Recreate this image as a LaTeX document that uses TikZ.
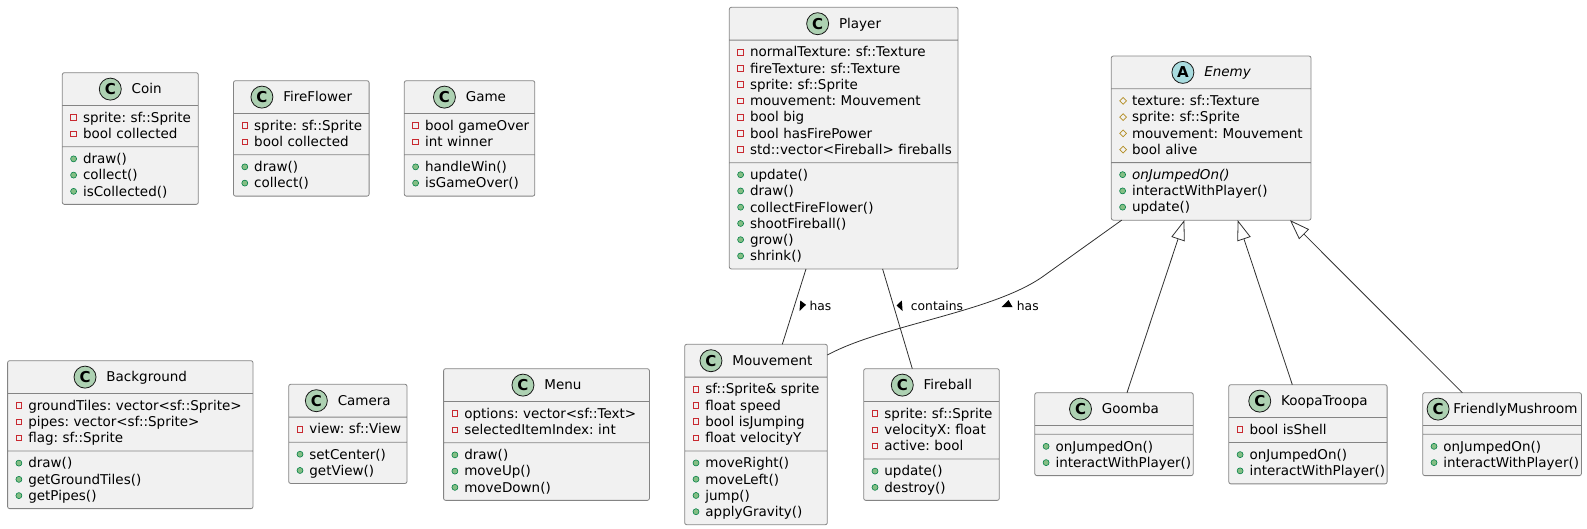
\documentclass[tikz,border=0pt]{standalone}
\usepackage{fontspec}
\setmainfont{DejaVu Sans}
\usetikzlibrary{shapes.multipart, arrows.meta}
\definecolor{classfill}{HTML}{F1F1F1}
\definecolor{classline}{HTML}{848484}
\definecolor{linkline}{HTML}{303030}
\definecolor{iconC}{HTML}{ADD1B2}
\definecolor{iconA}{HTML}{A9DCDF}
\definecolor{iconline}{HTML}{181818}
\definecolor{privred}{HTML}{C82930}
\definecolor{pubfill}{HTML}{84BE84}
\definecolor{publine}{HTML}{038048}
\definecolor{protgold}{HTML}{B38D22}
\frenchspacing
\newcommand\classfont{\fontsize{13.5}{16.25}\selectfont\lineskiplimit=-5pt\relax}
\newcommand\mstrut{\rule[-3.8pt]{0pt}{16.25pt}}
% visibility marks in front of members
\newcommand\visicon[1]{\makebox[14.7pt][l]{\hspace{2pt}\tikz[baseline=-4.8pt, sharp corners]{#1}}}
\newcommand\priv[1]{\visicon{\draw[privred, line width=0.8pt] (-2.8pt,-2.8pt) rectangle (2.8pt,2.8pt);}\mbox{#1}\mstrut}
\newcommand\publ[1]{\visicon{\draw[publine, fill=pubfill, line width=0.6pt] (0pt,0pt) circle (3pt);}\mbox{#1}\mstrut}
\newcommand\prot[1]{\visicon{\draw[protgold, line width=0.8pt] (0pt,3.4pt) -- (3.4pt,0pt) -- (0pt,-3.4pt) -- (-3.4pt,0pt) -- cycle;}\mbox{#1}\mstrut}
% class name with its round mark
\newcommand\classhead[4][10pt]{\makebox[\hsize]{\rlap{\tikz[baseline=-4.5pt, sharp corners]\draw[iconline, fill=#2, line width=0.8pt] (0pt,0pt) circle (11pt);}\makebox[22.8pt]{\raisebox{-1pt}{\fontsize{15}{15}\selectfont\bfseries #3}}\hspace{#1}#4\rule[-7.5pt]{0pt}{24pt}}}
\tikzset{umlclass/.style={ % class box: name, fields, methods
    rectangle split, rectangle split parts=3,
    rectangle split empty part height=0pt, rectangle split empty part depth=0pt,
    draw=classline, fill=classfill, line width=0.8pt, rounded corners=2pt,
    anchor=north west, inner xsep=6pt, inner ysep=4pt, outer sep=0pt,
    align=left, font=\classfont},
  link/.style={draw=linkline, line width=0.8pt},
  extends/.style={link, -{Triangle[open, length=20pt, width=14pt, fill=white]}},
  linklabel/.style={anchor=base west, inner sep=0pt, font=\fontsize{12.3}{14}\selectfont},
  dirmark/.style={fill=black}}

\begin{document}
\begin{tikzpicture}[x=1pt, y=-1pt]
  \useasboundingbox (0,0) rectangle (1587,528);

  \node[umlclass, text width=124pt] (Coin) at (62.3,72.7) {\classhead{iconC}{C}{Coin}
    \nodepart{two}\priv{sprite: sf::Sprite}\\\priv{bool collected}
    \nodepart{three}\publ{draw()}\\\publ{collect()}\\\publ{isCollected()}};
  \node[umlclass, text width=123.6pt] (FireFlower) at (233.5,80.7) {\classhead{iconC}{C}{FireFlower}
    \nodepart{two}\priv{sprite: sf::Sprite}\\\priv{bool collected}
    \nodepart{three}\publ{draw()}\\\publ{collect()}};
  \node[umlclass, text width=118.5pt] (Game) at (404.3,80.7) {\classhead{iconC}{C}{Game}
    \nodepart{two}\priv{bool gameOver}\\\priv{int winner}
    \nodepart{three}\publ{handleWin()}\\\publ{isGameOver()}};
  \node[umlclass, text width=216.7pt] (Player) at (729.3,7.3) {\classhead{iconC}{C}{Player}
    \nodepart{two}\priv{normalTexture: sf::Texture}\\\priv{fireTexture: sf::Texture}\\\priv{sprite: sf::Sprite}\\
      \priv{mouvement: Mouvement}\\\priv{bool big}\\\priv{bool hasFirePower}\\\priv{std::vector<Fireball> fireballs}
    \nodepart{three}\publ{update()}\\\publ{draw()}\\\publ{collectFireFlower()}\\\publ{shootFireball()}\\
      \publ{grow()}\\\publ{shrink()}};
  \node[umlclass, text width=187.7pt] (Enemy) at (1111.3,56) {\classhead{iconA}{A}{\itshape Enemy}
    \nodepart{two}\prot{texture: sf::Texture}\\\prot{sprite: sf::Sprite}\\\prot{mouvement: Mouvement}\\\prot{bool alive}
    \nodepart{three}\publ{\itshape onJumpedOn()}\\\publ{interactWithPlayer()}\\\publ{update()}};

  \node[umlclass, text width=233.4pt] (Background) at (7.6,360.7) {\classhead{iconC}{C}{Background}
    \nodepart{two}\priv{groundTiles: vector<sf::Sprite>}\\\priv{pipes: vector<sf::Sprite>}\\\priv{flag: sf::Sprite}
    \nodepart{three}\publ{draw()}\\\publ{getGroundTiles()}\\\publ{getPipes()}};
  \node[umlclass, text width=106.3pt] (Camera) at (288.7,384.3) {\classhead{iconC}{C}{Camera}
    \nodepart{two}\priv{view: sf::View}
    \nodepart{three}\publ{setCenter()}\\\publ{getView()}};
  \node[umlclass, text width=193.8pt] (Menu) at (443.6,368.7) {\classhead{iconC}{C}{Menu}
    \nodepart{two}\priv{options: vector<sf::Text>}\\\priv{selectedItemIndex: int}
    \nodepart{three}\publ{draw()}\\\publ{moveUp()}\\\publ{moveDown()}};
  \node[umlclass, text width=130.6pt] (Mouvement) at (684.7,344.3) {\classhead{iconC}{C}{Mouvement}
    \nodepart{two}\priv{sf::Sprite\& sprite}\\\priv{float speed}\\\priv{bool isJumping}\\\priv{float velocityY}
    \nodepart{three}\publ{moveRight()}\\\publ{moveLeft()}\\\publ{jump()}\\\publ{applyGravity()}};
  \node[umlclass, text width=123.6pt] (Fireball) at (863.7,368.7) {\classhead{iconC}{C}{Fireball}
    \nodepart{two}\priv{sprite: sf::Sprite}\\\priv{velocityX: float}\\\priv{active: bool}
    \nodepart{three}\publ{update()}\\\publ{destroy()}};
  \node[umlclass, text width=146.4pt] (Goomba) at (1034.8,392.7) {\classhead{iconC}{C}{Goomba}
    \nodepart{two}
    \nodepart{three}\publ{onJumpedOn()}\\\publ{interactWithPlayer()}};
  \node[umlclass, text width=146.3pt] (KoopaTroopa) at (1228.8,384.7) {\classhead{iconC}{C}{KoopaTroopa}
    \nodepart{two}\priv{bool isShell}
    \nodepart{three}\publ{onJumpedOn()}\\\publ{interactWithPlayer()}};
  \node[umlclass, text width=146.7pt] (FriendlyMushroom) at (1422.7,392.7) {\classhead[4pt]{iconC}{C}{FriendlyMushroom}
    \nodepart{two}
    \nodepart{three}\publ{onJumpedOn()}\\\publ{interactWithPlayer()}};

  % associations
  \draw[link] ([xshift=76.7pt]Player.south west) -- ([xshift=97.6pt]Mouvement.north west);
  \draw[link] ([xshift=153.3pt]Player.south west) -- ([xshift=48.6pt]Fireball.north west);
  \coordinate (enemybend) at (1045,275);
  \draw[link] ([xshift=10.4pt]Enemy.south west) -- (enemybend)
    .. controls (995,312) and (885,324) .. ([yshift=-10.7pt]Mouvement.north east);

  \node[linklabel] (hasmove) at (809.3,310) {has};
  \node[linklabel] (containsfire) at (910.7,310) {contains};
  \node[linklabel] (hasenemy) at (1016.7,310) {has};
  \fill[dirmark] (800.3,300.5) -- (806,304.8) -- (799.5,311) -- cycle;
  \fill[dirmark] (901.8,300.5) -- (896.5,305.5) -- (902.6,311) -- cycle;
  \fill[dirmark] (1001.5,307) -- (1012.5,307) -- (1008.5,300) -- cycle;

  % inheritance
  \draw[extends] ([xshift=92.2pt]Goomba.north west) -- ([xshift=73pt]Enemy.south west);
  \draw[extends] ([xshift=63.5pt]KoopaTroopa.north west) -- ([xshift=126.4pt]Enemy.south west);
  \draw[extends] ([xshift=39.6pt]FriendlyMushroom.north west) -- ([xshift=178.7pt]Enemy.south west);
\end{tikzpicture}
\end{document}
